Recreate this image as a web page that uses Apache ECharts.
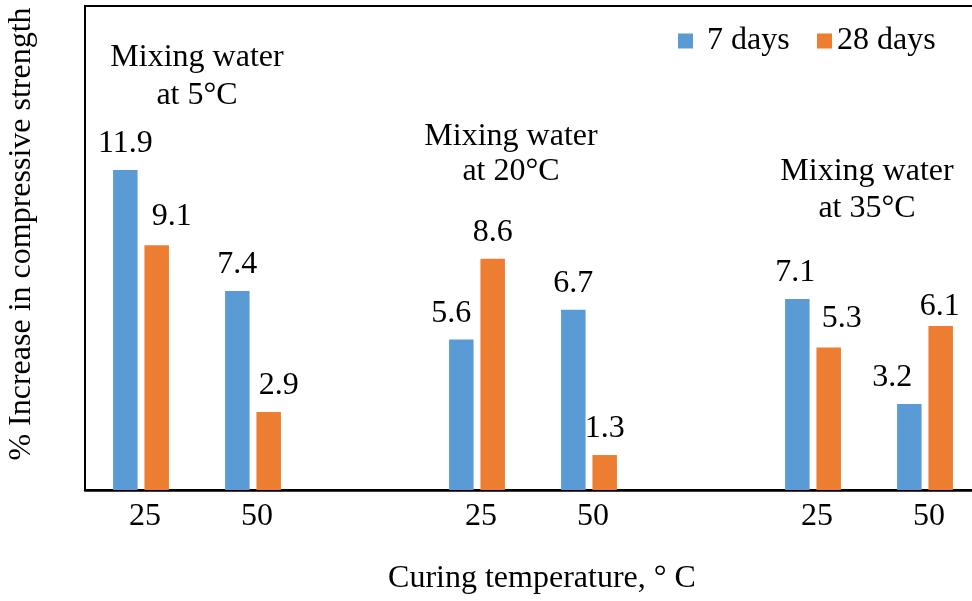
<!DOCTYPE html>
<html>
<head>
<meta charset="utf-8">
<script src="https://cdn.jsdelivr.net/npm/echarts@6/dist/echarts.min.js"></script>
<style>
html,body{margin:0;padding:0;background:#fff;}
#chart{width:972px;height:601px;}
</style>
</head>
<body>
<div id="chart"></div>
<script>
// ---- data ----
var categories = ['25', '50', '', '25', '50', '', '25', '50'];
var sevenDays = [11.9, 7.4, null, 5.6, 6.7, null, 7.1, 3.2];
var twentyEightDays = [9.1, 2.9, null, 8.6, 1.3, null, 5.3, 6.1];
var seriesNames = ['7 days', '28 days'];
var groupNotes = [['Mixing water', 'at 5°C'], ['Mixing water', 'at 20°C'], ['Mixing water', 'at 35°C']];
var xTitle = 'Curing temperature, ° C';
var yTitle = '% Increase in compressive strength';

// label nudges (px) kept apart from values
var sevenShift = [[0,0],[0,0],null,[-10,0],[0,0],null,[-2,0],[-17,0]];
var twentyEightShift = [[15,-3],[10,0],null,[0,0],[0,0],null,[13,-3],[-1,7]];

var FONT = 'Liberation Serif, Times New Roman, serif';
var FS = 32;
var BLUE = '#5B9BD5', ORANGE = '#ED7D31';

function build(values, shifts) {
  return values.map(function (v, i) {
    if (v === null) return null;
    var s = shifts[i] || [0, 0];
    return { value: v, label: { offset: s } };
  });
}

var chart = echarts.init(document.getElementById('chart'), null, { renderer: 'canvas' });

var notePos = [[197, 58, 95.5], [511, 136.5, 171.5], [867, 171.5, 209]];
var graphics = [];
groupNotes.forEach(function (lines, gi) {
  lines.forEach(function (t, li) {
    graphics.push({
      type: 'text', x: notePos[gi][0], y: notePos[gi][li + 1],
      style: { text: t, fill: '#000', font: FS + 'px ' + FONT, textAlign: 'center', textVerticalAlign: 'middle' }
    });
  });
});
graphics.push({
  type: 'text', x: 542, y: 579,
  style: { text: xTitle, fill: '#000', font: FS + 'px ' + FONT, textAlign: 'center', textVerticalAlign: 'middle' }
});
graphics.push({
  type: 'text', x: 22, y: 234, rotation: Math.PI / 2,
  style: { text: yTitle, fill: '#000', font: FS + 'px ' + FONT, textAlign: 'center', textVerticalAlign: 'middle' }
});

var option = {
  backgroundColor: '#fff',
  animation: false,
  textStyle: { fontFamily: FONT },
  grid: { left: 85, width: 896, top: 6, height: 484, show: true, borderColor: '#000', borderWidth: 2,
          containLabel: false, outerBoundsMode: 'none' },
  legend: [{
    data: [seriesNames[0]], left: 678, top: 25, padding: 0,
    itemWidth: 15, itemHeight: 15, icon: 'rect',
    formatter: '{a|{name}}',
    textStyle: { fontSize: FS, color: '#000', fontFamily: FONT, rich: { a: { fontSize: FS, fontFamily: FONT, color: '#000', padding: [0, 0, 0, 9] } } }
  }, {
    data: [seriesNames[1]], left: 817, top: 25, padding: 0,
    itemWidth: 15, itemHeight: 15, icon: 'rect',
    textStyle: { fontSize: FS, color: '#000', fontFamily: FONT }
  }],
  xAxis: {
    type: 'category', data: categories,
    axisLine: { show: true, lineStyle: { color: '#000', width: 2.5 } },
    axisTick: { show: false },
    axisLabel: { color: '#000', fontSize: FS, fontFamily: FONT, margin: 11, padding: [0, 0, 0, 8] },
    splitLine: { show: false }
  },
  yAxis: {
    type: 'value', min: 0, max: 18,
    axisLine: { show: true, lineStyle: { color: '#000', width: 2 } },
    axisTick: { show: false }, axisLabel: { show: false }, splitLine: { show: false }
  },
  series: [{
    name: seriesNames[0], type: 'bar', data: build(sevenDays, sevenShift),
    barWidth: 24.5, barGap: '28%',
    itemStyle: { color: BLUE },
    label: { show: true, position: 'top', distance: 10, color: '#000', fontSize: FS, fontFamily: FONT }
  }, {
    name: seriesNames[1], type: 'bar', data: build(twentyEightDays, twentyEightShift),
    barWidth: 24.5, barGap: '28%',
    itemStyle: { color: ORANGE },
    label: { show: true, position: 'top', distance: 10, color: '#000', fontSize: FS, fontFamily: FONT }
  }],
  graphic: graphics
};
chart.setOption(option);
</script>
</body>
</html>
